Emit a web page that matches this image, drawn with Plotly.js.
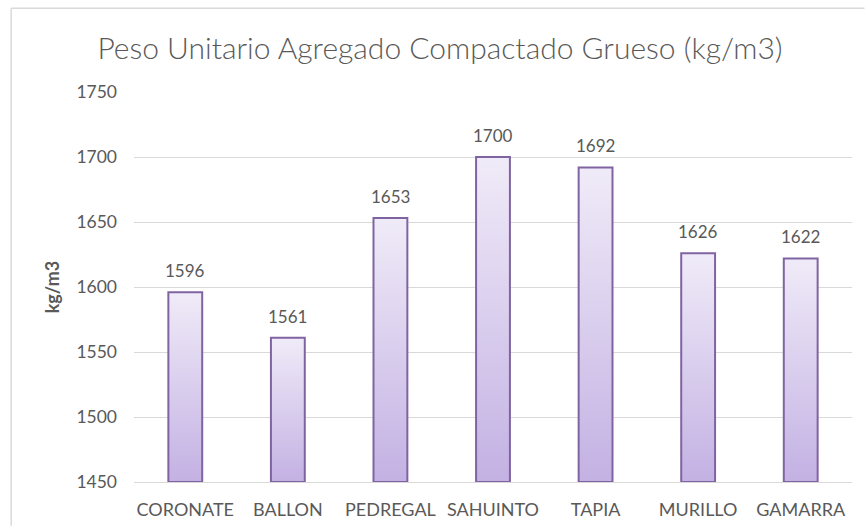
<!DOCTYPE html>
<html>
<head>
<meta charset="utf-8">
<script src="https://cdn.plot.ly/plotly-3.0.1.min.js"></script>
<style>
  html, body { margin: 0; padding: 0; background: #ffffff; }
  #chart { width: 865px; height: 526px; }
</style>
</head>
<body>
<div id="chart"></div>
<script>
const categories = ["CORONATE", "BALLON", "PEDREGAL", "SAHUINTO", "TAPIA", "MURILLO", "GAMARRA"];
const values = [1596, 1561, 1653, 1700, 1692, 1626, 1622];
const yTickValues = [1450, 1500, 1550, 1600, 1650, 1700, 1750];
const chartTitle = "Peso Unitario Agregado Compactado Grueso (kg/m3)";
const yAxisTitle = "kg/m3";

const BASE = 1450;
const W = 865, H = 526;
const M = { l: 133.5, r: 12.5, t: 92.3, b: 43.7 };
const pw = W - M.l - M.r, ph = H - M.t - M.b;
const FONT = "Lato, 'Open Sans', sans-serif";
const GRAY = "#595959";

const trace = {
  type: "bar",
  x: categories,
  y: values.map(v => v - BASE),
  base: BASE,
  marker: { color: "#d9cdee", line: { color: "#8064a2", width: 2 } },
  hoverinfo: "skip"
};

const annotations = categories.map((c, i) => ({
  x: c, y: values[i], xref: "x", yref: "y",
  text: String(values[i]), showarrow: false,
  yanchor: "bottom", yshift: 9,
  font: { family: FONT, size: 17, color: GRAY }
}));

// chart frame (only left and top edges are visible in the picture)
const px2x = p => (p - M.l) / pw;
const px2y = p => 1 - (p - M.t) / ph;
const frameLine = { color: "#d9d9d9", width: 1.5 };
const shapes = [
  { type: "line", xref: "paper", yref: "paper", layer: "below",
    x0: px2x(10.5), x1: px2x(10.5), y0: px2y(526), y1: px2y(8.5), line: frameLine },
  { type: "line", xref: "paper", yref: "paper", layer: "below",
    x0: px2x(10.5), x1: px2x(865), y0: px2y(8.5), y1: px2y(8.5), line: frameLine }
];

const layout = {
  width: W, height: H,
  margin: M,
  paper_bgcolor: "#ffffff", plot_bgcolor: "#ffffff",
  showlegend: false,
  bargap: 0.67,
  title: {
    text: chartTitle,
    x: 440 / W, xanchor: "center", xref: "container",
    y: 1 - 48 / H, yanchor: "middle", yref: "container",
    font: { family: FONT, size: 30, color: GRAY, weight: 300 }
  },
  xaxis: {
    type: "category",
    showgrid: false, zeroline: false,
    showline: true, linecolor: "#d9d9d9", linewidth: 1,
    ticks: "", ticklabelstandoff: 11,
    tickfont: { family: FONT, size: 18, color: GRAY },
    fixedrange: true
  },
  yaxis: {
    range: [BASE, 1750],
    tickvals: yTickValues,
    ticktext: yTickValues.map(String),
    showgrid: true, gridcolor: "#d9d9d9", gridwidth: 1,
    zeroline: false, showline: false,
    ticks: "", ticklabelstandoff: 16,
    tickfont: { family: FONT, size: 17.5, color: GRAY },
    title: { text: yAxisTitle, standoff: 12, font: { family: FONT, size: 18, color: GRAY, weight: "bold" } },
    automargin: false,
    fixedrange: true
  },
  annotations: annotations,
  shapes: shapes
};

Plotly.newPlot("chart", [trace], layout, { displayModeBar: false, staticPlot: true }).then(gd => {
  const svg = gd.querySelector("svg.main-svg");
  const ns = "http://www.w3.org/2000/svg";
  let defs = svg.querySelector("defs");
  if (!defs) { defs = document.createElementNS(ns, "defs"); svg.insertBefore(defs, svg.firstChild); }
  const grad = document.createElementNS(ns, "linearGradient");
  grad.setAttribute("id", "barGrad");
  grad.setAttribute("x1", "0"); grad.setAttribute("y1", "0");
  grad.setAttribute("x2", "0"); grad.setAttribute("y2", "1");
  [["0", "#f0ebf8"], ["1", "#c3b1e3"]].forEach(([o, c]) => {
    const s = document.createElementNS(ns, "stop");
    s.setAttribute("offset", o); s.setAttribute("stop-color", c);
    grad.appendChild(s);
  });
  defs.appendChild(grad);
  gd.querySelectorAll(".barlayer .point path").forEach(p => { p.style.fill = "url(#barGrad)"; });
});
</script>
</body>
</html>
